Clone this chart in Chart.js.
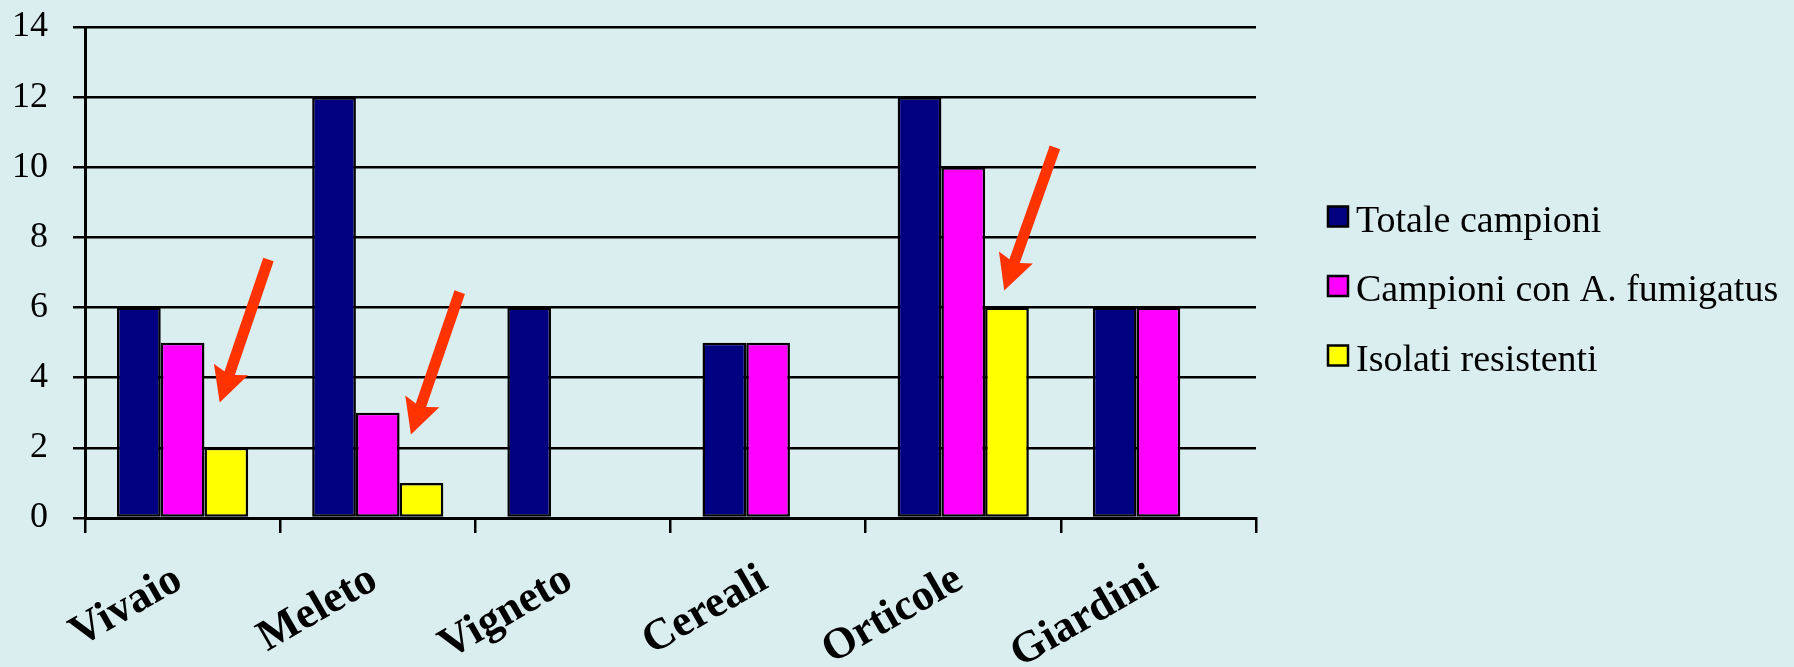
<!DOCTYPE html>
<html><head><meta charset="utf-8">
<script src="https://cdn.jsdelivr.net/npm/chart.js@4.4.1/dist/chart.umd.min.js"></script>
<style>html,body{margin:0;padding:0;background:#DAEEF0;} canvas{display:block}</style>
</head><body>
<canvas id="c" width="1794" height="667"></canvas>
<script>
// ---- data ----
const categories = ['Vivaio', 'Meleto', 'Vigneto', 'Cereali', 'Orticole', 'Giardini'];
const totaleCampioni = [6, 12, 6, 5, 12, 6];
const campioniFumigatus = [5, 3, 0, 5, 10, 6];
const isolatiResistenti = [2, 1, 0, 0, 6, 0];
const seriesLabels = ['Totale campioni', 'Campioni con A. fumigatus', 'Isolati resistenti'];
const yTicks = [0, 2, 4, 6, 8, 10, 12, 14];
// arrow annotations (data space: category + offset in category widths, value on y)
const arrowCategory = ['Vivaio', 'Meleto', 'Orticole'];
const arrowTipDx = [0.19, 0.17, 0.21];
const arrowTipValue = [3.29, 2.38, 6.49];
const arrowTailDx = [0.44, 0.42, 0.47];
const arrowTailValue = [7.37, 6.44, 10.57];

// ---- styles ----
const BG = '#DAEEF0';
const colors = ['#000080', '#FF00FF', '#FFFF00'];
const ARROW = '#FF3300';

const bgPlugin = {
  id: 'bg',
  beforeDraw(chart) {
    const ctx = chart.ctx;
    ctx.save(); ctx.fillStyle = BG; ctx.fillRect(0, 0, chart.width, chart.height); ctx.restore();
  }
};

function drawArrow(ctx, x1, y1, x2, y2) {
  const ang = Math.atan2(y2 - y1, x2 - x1);
  const L = Math.hypot(x2 - x1, y2 - y1);
  const headLen = 35, headW = 36, shaftW = 11;
  ctx.save();
  ctx.translate(x2, y2); ctx.rotate(ang);
  ctx.beginPath();
  ctx.moveTo(0, 0);
  ctx.lineTo(-headLen, -headW / 2);
  ctx.lineTo(-headLen + 4, -shaftW / 2);
  ctx.lineTo(-L, -shaftW / 2);
  ctx.lineTo(-L, shaftW / 2);
  ctx.lineTo(-headLen + 4, shaftW / 2);
  ctx.lineTo(-headLen, headW / 2);
  ctx.closePath();
  ctx.fillStyle = ARROW; ctx.fill();
  ctx.restore();
}

const arrowPlugin = {
  id: 'arrows',
  afterDatasetsDraw(chart) {
    const xs = chart.scales.x, ys = chart.scales.y, ctx = chart.ctx;
    const cw = (xs.right - xs.left) / categories.length;
    arrowCategory.forEach((cat, i) => {
      const idx = categories.indexOf(cat);
      const cx = xs.getPixelForValue(idx);
      drawArrow(ctx,
        cx + arrowTailDx[i] * cw, ys.getPixelForValue(arrowTailValue[i]),
        cx + arrowTipDx[i] * cw, ys.getPixelForValue(arrowTipValue[i]));
    });
  }
};

const legendPlugin = {
  id: 'customLegend',
  afterDraw(chart) {
    const ctx = chart.ctx;
    const x0 = chart.chartArea.right + 72, y0 = 216.5, gap = 69.5, box = 20;
    ctx.save();
    ctx.font = '38px "Liberation Serif"';
    ctx.textBaseline = 'alphabetic';
    chart.data.datasets.forEach((ds, i) => {
      const cy = y0 + i * gap;
      ctx.fillStyle = ds.backgroundColor;
      ctx.fillRect(x0, cy - box / 2, box, box);
      ctx.lineWidth = 2.5; ctx.strokeStyle = '#000';
      ctx.strokeRect(x0, cy - box / 2, box, box);
      ctx.fillStyle = '#000';
      ctx.fillText(ds.label, x0 + 28, cy + 15);
    });
    ctx.restore();
  }
};

new Chart(document.getElementById('c'), {
  type: 'bar',
  data: {
    labels: categories,
    datasets: [
      { label: seriesLabels[0], data: totaleCampioni, backgroundColor: colors[0] },
      { label: seriesLabels[1], data: campioniFumigatus, backgroundColor: colors[1] },
      { label: seriesLabels[2], data: isolatiResistenti, backgroundColor: colors[2] }
    ]
  },
  options: {
    responsive: false,
    animation: false,
    devicePixelRatio: 1,
    layout: { padding: { top: 27, right: 538, left: 0, bottom: 0 } },
    datasets: { bar: { borderColor: '#000', borderWidth: 2.5, borderSkipped: false, categoryPercentage: 0.672, barPercentage: 1.0 } },
    plugins: { legend: { display: false }, tooltip: { enabled: false } },
    scales: {
      x: {
        offset: true,
        grid: { display: true, drawOnChartArea: false, drawTicks: true, tickLength: 15, color: '#000', lineWidth: 2.5, offset: true },
        border: { display: true, color: '#000', width: 3 },
        ticks: {
          autoSkip: false, maxRotation: 30, minRotation: 30, color: '#000',
          font: { family: '"Liberation Serif"', size: 44, weight: 'bold' },
          padding: 21, labelOffset: -4
        },
        afterFit(s) { s.height = 149; s.paddingLeft = 0; s.paddingRight = 0; }
      },
      y: {
        min: 0, max: 14,
        afterBuildTicks(s) { s.ticks = yTicks.map(v => ({ value: v })); },
        grid: { color: '#000', lineWidth: 2.5, tickLength: 12, drawTicks: true },
        border: { display: true, color: '#000', width: 3 },
        ticks: { color: '#000', font: { family: '"Liberation Serif"', size: 36 }, padding: 25 },
        afterFit(s) { s.width = 85; s.paddingTop = 0; s.paddingBottom = 0; }
      }
    }
  },
  plugins: [bgPlugin, arrowPlugin, legendPlugin]
});
</script>
</body></html>
